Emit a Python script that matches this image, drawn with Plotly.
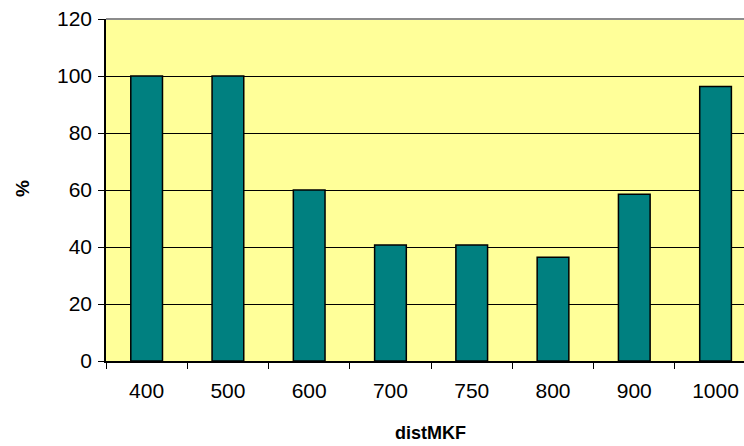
import plotly.graph_objects as go

# distMKF categories and their percentages
categories = ["400", "500", "600", "700", "750", "800", "900", "1000"]
percent = [100, 100, 60, 40.7, 40.7, 36.4, 58.5, 96.3]
y_ticks = [0, 20, 40, 60, 80, 100, 120]

FONT = "Liberation Sans, Arial, sans-serif"

fig = go.Figure(
    go.Bar(
        x=categories,
        y=percent,
        marker=dict(color="#008080", line=dict(color="#000000", width=1.5)),
        width=0.39,
    )
)

fig.update_layout(
    width=744,
    height=446,
    margin=dict(l=106, r=0, t=19, b=85),
    paper_bgcolor="#FFFFFF",
    plot_bgcolor="#FFFF99",
    showlegend=False,
    font=dict(family=FONT, size=20, color="#000000"),
    xaxis=dict(
        type="category",
        range=[-0.5, 7.35],
        tickson="boundaries",
        ticks="outside",
        ticklen=6,
        tickcolor="#000000",
        showline=True,
        linecolor="#000000",
        linewidth=1.5,
        showgrid=False,
        tickfont=dict(size=21),
        ticklabelstandoff=10,
    ),
    yaxis=dict(
        range=[0, 120],
        tickvals=y_ticks,
        ticks="outside",
        ticklen=6,
        tickcolor="#000000",
        showline=True,
        linecolor="#000000",
        linewidth=1.5,
        showgrid=True,
        gridcolor="#000000",
        gridwidth=1,
        zeroline=False,
        tickfont=dict(size=21),
        ticklabelstandoff=2,
    ),
    shapes=[
        dict(
            type="line", xref="paper", yref="paper",
            x0=0, x1=1, y0=1, y1=1,
            line=dict(color="#8C8C8C", width=2),
        )
    ],
    annotations=[
        dict(
            text="<b>distMKF</b>", xref="paper", yref="paper",
            x=(430 - 106) / 638, y=-72 / 342, xanchor="center", yanchor="middle",
            showarrow=False, font=dict(size=18),
        ),
        dict(
            text="<b>%</b>", xref="paper", yref="paper",
            x=-83 / 638, y=(361 - 188) / 342, xanchor="center", yanchor="middle",
            textangle=-90, showarrow=False, font=dict(size=19),
        ),
    ],
)

fig.write_html("out.html")
